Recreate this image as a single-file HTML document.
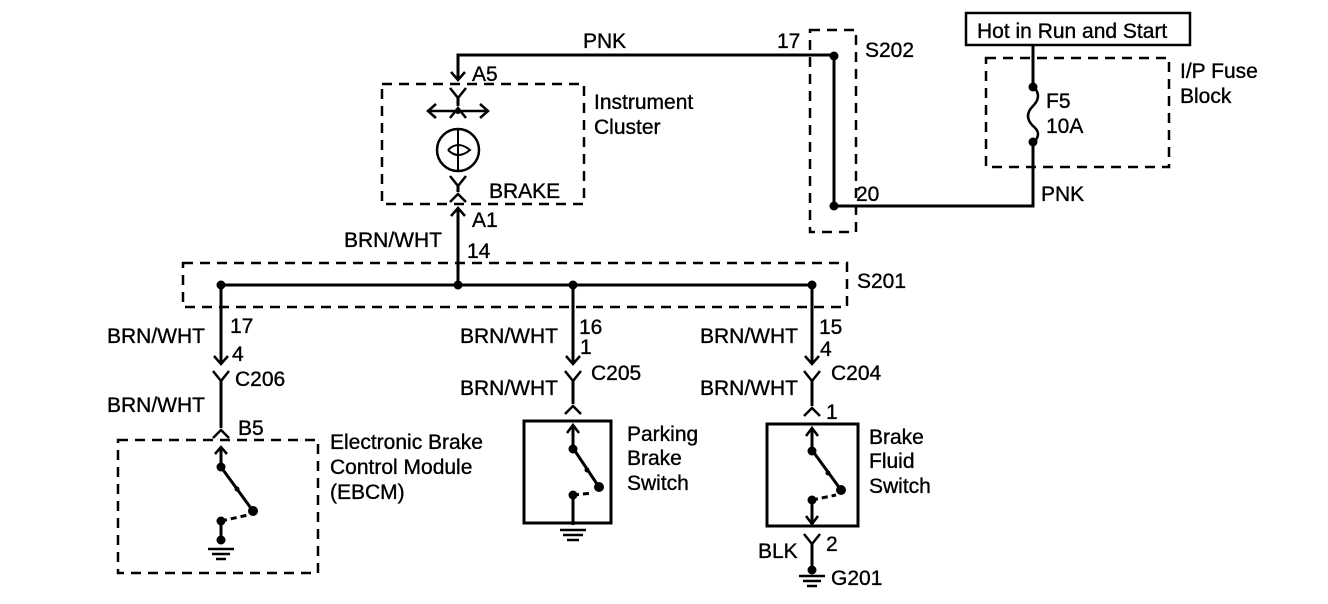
<!DOCTYPE html>
<html><head><meta charset="utf-8"><style>
html,body{margin:0;padding:0;background:#fff;}
svg{display:block;}
text{font-family:"Liberation Sans",Arial,sans-serif;font-size:21px;fill:#000;stroke:#000;stroke-width:0.35px;}
</style></head><body>
<svg width="1328" height="604" viewBox="0 0 1328 604" xmlns="http://www.w3.org/2000/svg">
<g stroke="#000" stroke-width="3" fill="none">
<g stroke-dasharray="10,7" stroke-width="2.5">
<rect x="382" y="84" width="202" height="120"/>
<rect x="810" y="30" width="46" height="202"/>
<rect x="986" y="58" width="183" height="109"/>
<rect x="183" y="263" width="664" height="44"/>
<rect x="118" y="440" width="200" height="133"/>
</g>
<rect x="966" y="13" width="224" height="32" stroke-width="2.5"/>
<rect x="524" y="421" width="87" height="102" stroke-width="3"/>
<rect x="767" y="424" width="91" height="102" stroke-width="3"/>
<polyline points="458,79 458,55 834,55 834,206 1033,206 1033,143"/>
<line x1="1033" y1="45" x2="1033" y2="86"/>
<path d="M1033 86 Q1043 96 1033 106 Q1023 116 1033 126 Q1043 134 1033 143" stroke-width="2.5"/>
<polyline points="451,72 458,80 465,72" stroke-width="2.5"/>
<polyline points="450,88 458,98 466,88" stroke-width="2.5"/>
<line x1="458" y1="98" x2="458" y2="106"/>
<polyline points="450,118 458,108 466,118" stroke-width="2.5"/>
<line x1="428" y1="111" x2="488" y2="111" stroke-width="2.5"/>
<polyline points="436,104 428,111 436,118" stroke-width="2.5"/>
<polyline points="480,104 488,111 480,118" stroke-width="2.5"/>
<circle cx="458" cy="150" r="21" stroke-width="2.5"/>
<line x1="458" y1="130" x2="458" y2="170" stroke-width="2"/>
<path d="M448 150 Q458 140 470 150 Q458 160 448 150" stroke-width="2"/>
<polyline points="450,176 458,186 466,176" stroke-width="2.5"/>
<line x1="458" y1="186" x2="458" y2="192"/>
<polyline points="450,202 458,194 466,202" stroke-width="2.5"/>
<line x1="458" y1="208" x2="458" y2="285"/>
<polyline points="451,216 458,208 465,216" stroke-width="2.5"/>
<line x1="221" y1="285" x2="812" y2="285"/>
<line x1="221" y1="285" x2="221" y2="364"/>
<line x1="573" y1="285" x2="573" y2="364"/>
<line x1="812" y1="285" x2="812" y2="364"/>
<polyline points="214,356 221,364 228,356" stroke-width="2.5"/>
<polyline points="566,356 573,364 580,356" stroke-width="2.5"/>
<polyline points="805,356 812,364 819,356" stroke-width="2.5"/>
<polyline points="213,371 221,381 229,371" stroke-width="2.5"/>
<line x1="221" y1="381" x2="221" y2="428"/>
<polyline points="213,438 221,430 229,438" stroke-width="2.5"/>
<polyline points="565,371 573,381 581,371" stroke-width="2.5"/>
<line x1="573" y1="381" x2="573" y2="404"/>
<polyline points="565,414 573,406 581,414" stroke-width="2.5"/>
<polyline points="804,371 812,381 820,371" stroke-width="2.5"/>
<line x1="812" y1="381" x2="812" y2="406"/>
<polyline points="804,416 812,408 820,416" stroke-width="2.5"/>
<line x1="221" y1="447" x2="221" y2="467"/>
<polyline points="215,454 221,447 227,454" stroke-width="2.5"/>
<line x1="221" y1="467" x2="253" y2="511"/>
<line x1="221" y1="521" x2="248" y2="515" stroke-dasharray="6,4"/>
<line x1="221" y1="521" x2="221" y2="540"/>
<line x1="208" y1="549" x2="234" y2="549" stroke-width="2.5"/>
<line x1="212" y1="554" x2="230" y2="554" stroke-width="2.5"/>
<line x1="216" y1="559" x2="226" y2="559" stroke-width="2.5"/>
<line x1="573" y1="425" x2="573" y2="448"/>
<polyline points="567,433 573,425 579,433" stroke-width="2.5"/>
<line x1="573" y1="448" x2="599" y2="487"/>
<line x1="573" y1="495" x2="593" y2="493" stroke-dasharray="6,4"/>
<line x1="573" y1="495" x2="573" y2="525"/>
<line x1="560" y1="530" x2="586" y2="530" stroke-width="2.5"/>
<line x1="563" y1="535" x2="583" y2="535" stroke-width="2.5"/>
<line x1="567" y1="540" x2="579" y2="540" stroke-width="2.5"/>
<line x1="812" y1="428" x2="812" y2="450"/>
<polyline points="806,436 812,428 818,436" stroke-width="2.5"/>
<line x1="812" y1="450" x2="841" y2="490"/>
<line x1="812" y1="500" x2="836" y2="495" stroke-dasharray="6,4"/>
<line x1="812" y1="500" x2="812" y2="524"/>
<polyline points="806,516 812,524 818,516" stroke-width="2.5"/>
<polyline points="804,534 812,544 820,534" stroke-width="2.5"/>
<line x1="812" y1="544" x2="812" y2="570"/>
<line x1="799" y1="576" x2="825" y2="576" stroke-width="2.5"/>
<line x1="803" y1="581" x2="821" y2="581" stroke-width="2.5"/>
<line x1="807" y1="586" x2="817" y2="586" stroke-width="2.5"/>
</g>
<g fill="#000">
<circle cx="834" cy="56" r="4.5"/><circle cx="834" cy="206" r="4.5"/>
<circle cx="1033" cy="87" r="4.5"/><circle cx="1033" cy="142" r="4.5"/>
<circle cx="458" cy="111" r="3"/>
<circle cx="221" cy="285" r="4.5"/><circle cx="458" cy="285" r="4.5"/>
<circle cx="573" cy="285" r="4.5"/><circle cx="812" cy="285" r="4.5"/>
<circle cx="221" cy="467" r="4.5"/><circle cx="253" cy="511" r="5"/><circle cx="221" cy="521" r="4.5"/><circle cx="221" cy="540" r="4.5"/><circle cx="237" cy="489" r="2.5"/>
<circle cx="573" cy="449" r="4.5"/><circle cx="599" cy="487" r="5"/><circle cx="573" cy="495" r="4.5"/><circle cx="587" cy="470" r="2.5"/>
<circle cx="812" cy="451" r="4.5"/><circle cx="841" cy="490" r="5"/><circle cx="812" cy="500" r="4.5"/><circle cx="828" cy="473" r="2.5"/>
<circle cx="812" cy="570" r="4.5"/>
</g>
<text x="977" y="38">Hot in Run and Start</text>
<text x="583" y="48">PNK</text>
<text x="777" y="48">17</text>
<text x="865" y="57">S202</text>
<text x="1180" y="78">I/P Fuse</text>
<text x="1180" y="103">Block</text>
<text x="1046" y="108">F5</text>
<text x="1046" y="133">10A</text>
<text x="1041" y="201">PNK</text>
<text x="856" y="201">20</text>
<text x="472" y="81">A5</text>
<text x="594" y="109">Instrument</text>
<text x="594" y="134">Cluster</text>
<text x="489" y="198">BRAKE</text>
<text x="472" y="227">A1</text>
<text x="344" y="247">BRN/WHT</text>
<text x="467" y="258">14</text>
<text x="857" y="288">S201</text>
<text x="107" y="343">BRN/WHT</text>
<text x="230" y="333">17</text>
<text x="232" y="361">4</text>
<text x="460" y="343">BRN/WHT</text>
<text x="579" y="334">16</text>
<text x="580" y="354">1</text>
<text x="700" y="343">BRN/WHT</text>
<text x="819" y="334">15</text>
<text x="820" y="356">4</text>
<text x="235" y="386">C206</text>
<text x="107" y="412">BRN/WHT</text>
<text x="238" y="435">B5</text>
<text x="591" y="380">C205</text>
<text x="460" y="395">BRN/WHT</text>
<text x="831" y="380">C204</text>
<text x="700" y="395">BRN/WHT</text>
<text x="826" y="419">1</text>
<text x="330" y="449">Electronic Brake</text>
<text x="330" y="474">Control Module</text>
<text x="330" y="499">(EBCM)</text>
<text x="627" y="441">Parking</text>
<text x="627" y="465">Brake</text>
<text x="627" y="490">Switch</text>
<text x="869" y="444">Brake</text>
<text x="869" y="468">Fluid</text>
<text x="869" y="493">Switch</text>
<text x="826" y="551">2</text>
<text x="758" y="558">BLK</text>
<text x="831" y="585">G201</text>
</svg>
</body></html>
